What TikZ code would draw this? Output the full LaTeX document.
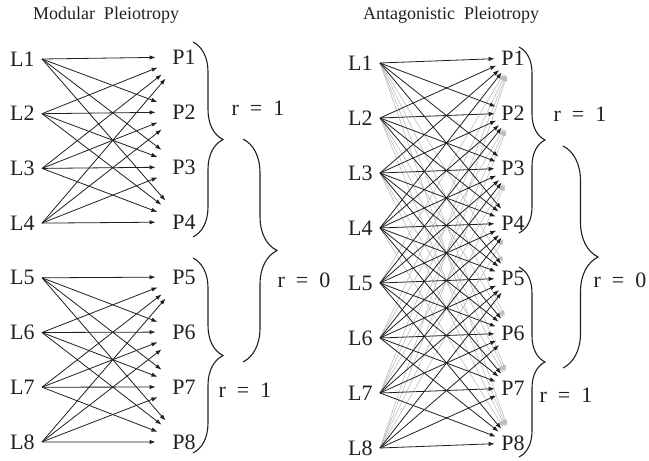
\documentclass[tikz,border=0pt]{standalone}
\usepackage{fontspec}
\setmainfont{Liberation Serif}
\usetikzlibrary{arrows.meta,decorations.pathreplacing}
\definecolor{Ink}{HTML}{231F20}
\definecolor{Faint}{HTML}{BDBDBD}

\begin{document}
\begin{tikzpicture}[x=0.5pt,y=-0.5pt,
    lab/.style={font=\fontsize{11}{13}\selectfont,inner sep=0pt,text=Ink},
    gene/.style={lab,anchor=east,inner xsep=3.5pt},
    trait/.style={lab,circle},
    link/.style={-{Latex[length=3pt,width=2.2pt]},line width=0.4pt,draw=Ink},
    weak/.style={link,draw=Faint,line width=0.3pt},
    curly/.style={decorate,decoration={brace,amplitude=#1},line width=0.55pt,draw=Ink}]
  \useasboundingbox (0,0) rectangle (649,461);

  % titles
  \node[lab,font=\fontsize{9}{11}\selectfont] (tmod) at (106,15) {Modular\ \ Pleiotropy};
  \node[lab,font=\fontsize{9}{11}\selectfont] (tant) at (451,15) {Antagonistic\ \ Pleiotropy};

  % modular panel
  \foreach \i in {1,...,8}{
    \node[gene] (mL\i) at (42,{59+(\i-1)*54.7}) {L\i};
    \node[trait,minimum size=28pt] (mP\i) at (184,{57+(\i-1)*55}) {P\i};
  }
  \foreach \a in {1,...,8}
    \foreach \b in {1,...,8}{
      \pgfmathtruncatemacro\same{(\a<5)==(\b<5)}
      \ifnum\same=1 \draw[link] (mL\a.east) -- (mP\b); \fi
    }
  \draw[curly=15pt] (193,42) -- (193,237);
  \draw[curly=15pt] (193,258) -- (193,453);
  \draw[curly=17pt] (243,139) -- (243,362);
  \node[lab] (rm1) at (258,108) {r\ \ =\ \ 1};
  \node[lab] (rm0) at (304,280) {r\ \ =\ \ 0};
  \node[lab] (rm2) at (245,390) {r\ \ =\ \ 1};

  % antagonistic panel
  \foreach \i in {1,...,8}{
    \node[gene] (aL\i) at (380,{63+(\i-1)*55}) {L\i};
    \node[trait,minimum size=18pt] (aP\i) at (513,{58+(\i-1)*55}) {P\i};
  }
  \foreach \a in {1,...,8}
    \foreach \b in {1,...,8}{
      \pgfmathtruncatemacro\gap{abs(\a-\b)}
      \ifnum\gap>3 \draw[weak] (aL\a.east) -- (aP\b); \fi
    }
  \foreach \a in {1,...,8}
    \foreach \b in {1,...,8}{
      \pgfmathtruncatemacro\gap{abs(\a-\b)}
      \ifnum\gap<4 \draw[link] (aL\a.east) -- (aP\b); \fi
    }
  \draw[curly=13pt] (519,47) -- (519,233);
  \draw[curly=13pt] (519,267) -- (519,457);
  \draw[curly=17.5pt] (563,146) -- (563,368);
  \node[lab] (ra1) at (580,114) {r\ \ =\ \ 1};
  \node[lab] (ra0) at (620,280) {r\ \ =\ \ 0};
  \node[lab] (ra2) at (566,395) {r\ \ =\ \ 1};
\end{tikzpicture}
\end{document}
